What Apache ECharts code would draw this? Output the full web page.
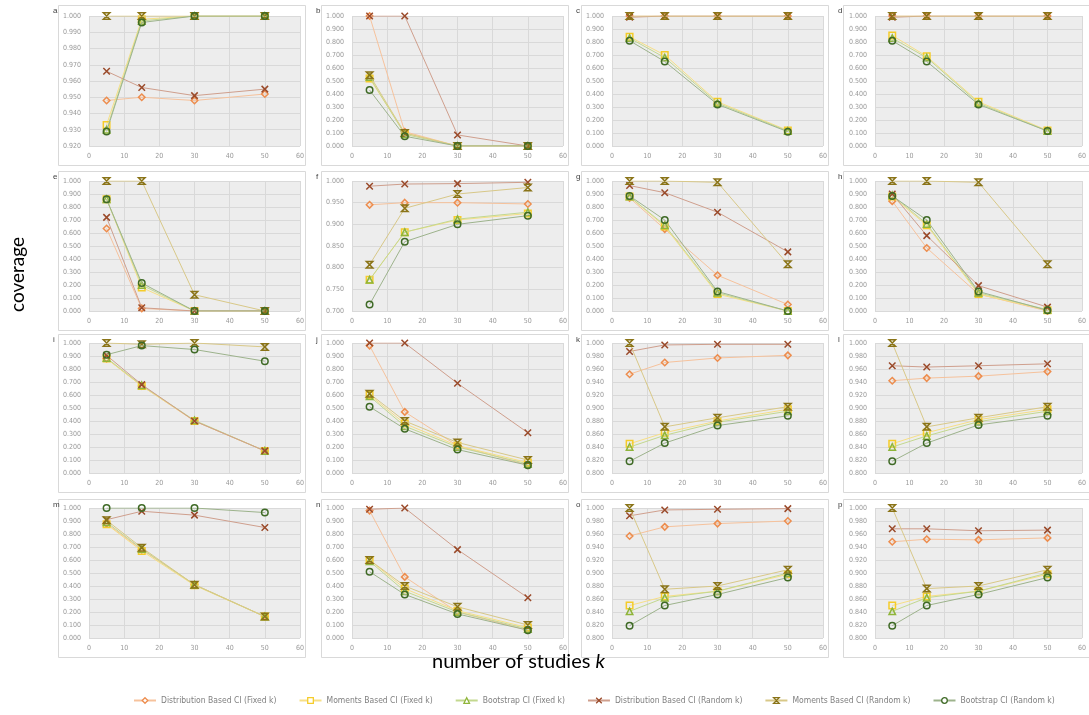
<!DOCTYPE html>
<html>
<head>
<meta charset="utf-8">
<script src="https://cdn.jsdelivr.net/npm/echarts@6/dist/echarts.min.js"></script>
<style>
html, body { margin: 0; padding: 0; background: #fff; }
#main { width: 1089px; height: 715px; }
</style>
</head>
<body>
<div id="main"></div>
<script>
var kValues = [5, 15, 30, 50];
var seriesNames = ['Distribution Based CI (Fixed k)', 'Moments Based CI (Fixed k)', 'Bootstrap CI (Fixed k)',
  'Distribution Based CI (Random k)', 'Moments Based CI (Random k)', 'Bootstrap CI (Random k)'];
var panelLetters = ['a', 'b', 'c', 'd', 'e', 'f', 'g', 'h', 'i', 'j', 'k', 'l', 'm', 'n', 'o', 'p'];
var yMin  = [0.92, 0, 0, 0,  0, 0.7, 0, 0,  0, 0, 0.8, 0.8,  0, 0, 0.8, 0.8];
var yMax  = [1, 1, 1, 1,  1, 1, 1, 1,  1, 1, 1, 1,  1, 1, 1, 1];
var yStep = [0.01, 0.1, 0.1, 0.1,  0.1, 0.05, 0.1, 0.1,  0.1, 0.1, 0.02, 0.02,  0.1, 0.1, 0.02, 0.02];

// one row per panel (a..p), values at k = 5, 15, 30, 50
var distFixed = [
  [0.948, 0.950, 0.948, 0.952], [1.000, 0.110, 0.000, 0.000], [1.000, 1.000, 1.000, 1.000], [1.000, 1.000, 1.000, 1.000],
  [0.635, 0.020, 0.000, 0.000], [0.945, 0.950, 0.950, 0.947], [0.870, 0.630, 0.275, 0.050], [0.845, 0.485, 0.130, 0.000],
  [0.880, 0.670, 0.400, 0.170], [0.980, 0.470, 0.210, 0.060], [0.952, 0.970, 0.977, 0.981], [0.942, 0.946, 0.949, 0.956],
  [0.880, 0.680, 0.410, 0.165], [0.980, 0.470, 0.200, 0.060], [0.957, 0.971, 0.976, 0.980], [0.948, 0.952, 0.951, 0.954]
];
var momFixed = [
  [0.933, 0.998, 1.000, 1.000], [0.520, 0.100, 0.000, 0.000], [0.840, 0.700, 0.340, 0.120], [0.850, 0.690, 0.340, 0.120],
  [0.860, 0.180, 0.000, 0.000], [0.772, 0.882, 0.910, 0.925], [0.880, 0.650, 0.130, 0.000], [0.880, 0.660, 0.130, 0.005],
  [0.880, 0.670, 0.400, 0.170], [0.600, 0.380, 0.210, 0.080], [0.845, 0.862, 0.880, 0.898], [0.845, 0.862, 0.882, 0.898],
  [0.875, 0.670, 0.405, 0.165], [0.600, 0.380, 0.210, 0.080], [0.850, 0.864, 0.872, 0.898], [0.850, 0.864, 0.872, 0.898]
];
var bootFixed = [
  [0.930, 0.997, 1.000, 1.000], [0.530, 0.090, 0.000, 0.000], [0.830, 0.680, 0.330, 0.115], [0.830, 0.680, 0.330, 0.115],
  [0.860, 0.200, 0.000, 0.000], [0.772, 0.882, 0.912, 0.928], [0.880, 0.660, 0.140, 0.000], [0.890, 0.670, 0.140, 0.010],
  [0.885, 0.675, 0.405, 0.170], [0.590, 0.360, 0.200, 0.070], [0.840, 0.858, 0.878, 0.895], [0.840, 0.857, 0.879, 0.895],
  [0.890, 0.685, 0.410, 0.165], [0.590, 0.360, 0.200, 0.070], [0.841, 0.862, 0.872, 0.900], [0.841, 0.862, 0.872, 0.900]
];
var distRandom = [
  [0.966, 0.956, 0.951, 0.955], [1.000, 1.000, 0.085, 0.000], [0.990, 1.000, 1.000, 1.000], [0.990, 1.000, 1.000, 1.000],
  [0.720, 0.025, 0.000, 0.000], [0.988, 0.993, 0.994, 0.997], [0.965, 0.910, 0.760, 0.455], [0.900, 0.580, 0.195, 0.030],
  [0.905, 0.680, 0.400, 0.170], [1.000, 1.000, 0.690, 0.310], [0.987, 0.997, 0.998, 0.998], [0.965, 0.963, 0.965, 0.968],
  [0.910, 0.975, 0.945, 0.850], [0.990, 1.000, 0.680, 0.310], [0.988, 0.997, 0.998, 0.999], [0.968, 0.968, 0.965, 0.966]
];
var momRandom = [
  [1.000, 1.000, 1.000, 1.000], [0.545, 0.100, 0.000, 0.000], [1.000, 1.000, 1.000, 1.000], [1.000, 1.000, 1.000, 1.000],
  [1.000, 1.000, 0.125, 0.000], [0.807, 0.937, 0.970, 0.985], [1.000, 1.000, 0.990, 0.360], [1.000, 1.000, 0.990, 0.360],
  [1.000, 0.990, 1.000, 0.970], [0.610, 0.400, 0.235, 0.100], [1.000, 0.871, 0.885, 0.902], [1.000, 0.871, 0.885, 0.902],
  [0.905, 0.695, 0.410, 0.165], [0.600, 0.400, 0.240, 0.100], [1.000, 0.875, 0.880, 0.905], [1.000, 0.876, 0.880, 0.905]
];
var bootRandom = [
  [0.929, 0.996, 1.000, 1.000], [0.430, 0.075, 0.000, 0.000], [0.810, 0.650, 0.320, 0.110], [0.810, 0.650, 0.320, 0.115],
  [0.860, 0.215, 0.000, 0.000], [0.715, 0.860, 0.900, 0.920], [0.885, 0.700, 0.150, 0.000], [0.885, 0.700, 0.150, 0.005],
  [0.910, 0.980, 0.950, 0.860], [0.510, 0.340, 0.180, 0.060], [0.818, 0.846, 0.873, 0.888], [0.818, 0.846, 0.874, 0.888],
  [1.000, 1.000, 1.000, 0.965], [0.510, 0.335, 0.185, 0.060], [0.819, 0.850, 0.867, 0.893], [0.819, 0.850, 0.867, 0.893]
];
var allData = [distFixed, momFixed, bootFixed, distRandom, momRandom, bootRandom];

var symbols = ['diamond', 'rect', 'triangle', 'path://M0,0L10,10M10,0L0,10', 'path://M0,0L10,0L0,10L10,10Z', 'circle'];
var markColors = ['#ed8d4e', '#f5cc2a', '#8fb53a', '#9a4a2a', '#8a7418', '#3f6a26'];
var lineColors = ['#f6c29c', '#f7df86', '#c3d88f', '#cf9f8d', '#d8c888', '#9db38c'];

// layout
var colLeft = [89, 352, 612, 875], plotW = 211;
var rowTop = [16, 181, 343, 508], plotH = 130;
var boxLeft = [58, 321, 581, 843], boxW = 247;
var boxTop = [5, 171, 334, 499], boxBottom = [165, 330, 492, 657];

var labelFont = "'Liberation Sans Narrow', 'DejaVu Sans Condensed', sans-serif";
var grids = [], xAxes = [], yAxes = [], series = [], graphics = [];

for (var p = 0; p < 16; p++) {
  var r = Math.floor(p / 4), c = p % 4;
  graphics.push({
    type: 'rect', silent: true, z: -10,
    shape: { x: boxLeft[c] + 0.5, y: boxTop[r] + 0.5, width: boxW, height: boxBottom[r] - boxTop[r] },
    style: { fill: '#ffffff', stroke: '#d9d9d9', lineWidth: 1 }
  });
  graphics.push({
    type: 'text', silent: true,
    x: boxLeft[c] - 5, y: boxTop[r] + 2,
    style: { text: panelLetters[p], fill: '#404040', font: "8px 'Liberation Sans', sans-serif" }
  });
  grids.push({
    left: colLeft[c], top: rowTop[r], width: plotW, height: plotH,
    show: true, backgroundColor: '#ededed', borderWidth: 0
  });
  xAxes.push({
    type: 'value', gridIndex: p, min: 0, max: 60, interval: 10,
    axisLine: { show: false }, axisTick: { show: false },
    axisLabel: { color: '#999999', fontSize: 7, fontFamily: labelFont, margin: 7 },
    splitLine: { show: true, lineStyle: { color: '#d9d9d9', width: 1 } }
  });
  yAxes.push({
    type: 'value', gridIndex: p, min: yMin[p], max: yMax[p], interval: yStep[p],
    axisLine: { show: false }, axisTick: { show: false },
    axisLabel: { color: '#999999', fontSize: 7, fontFamily: labelFont, margin: 8,
      formatter: function (v) { return v.toFixed(3); } },
    splitLine: { show: true, lineStyle: { color: '#d9d9d9', width: 1 } }
  });
  for (var s = 0; s < 6; s++) {
    series.push({
      name: seriesNames[s], type: 'line', xAxisIndex: p, yAxisIndex: p,
      data: kValues.map(function (k, i) { return [k, allData[s][p][i]]; }),
      symbol: symbols[s], symbolSize: 6.5, showAllSymbol: true,
      lineStyle: { color: lineColors[s], width: 1 },
      itemStyle: { color: 'rgba(255,255,255,0)', borderColor: markColors[s], borderWidth: 1.5 },
      emphasis: { disabled: true }, animation: false, z: 2 + s
    });
  }
}

graphics.push({
  type: 'text', silent: true, x: 8, y: 312, rotation: Math.PI / 2,
  style: { text: 'coverage', fill: '#000', font: "19px Lato, 'Open Sans', sans-serif" }
});
graphics.push({
  type: 'text', silent: true, x: 432, y: 652,
  style: {
    text: 'number of studies {i|k}', fill: '#000', font: "20px Lato, 'Open Sans', sans-serif",
    rich: { i: { fontStyle: 'italic', fontSize: 20, fontFamily: "Lato, 'Open Sans', sans-serif" } }
  }
});

var chart = echarts.init(document.getElementById('main'));
chart.setOption({
  animation: false,
  grid: grids,
  xAxis: xAxes,
  yAxis: yAxes,
  legend: {
    data: seriesNames, left: 128, top: 691, itemGap: 22, itemWidth: 22, itemHeight: 7,
    itemStyle: { color: '#ffffff', borderWidth: 1.3 },
    textStyle: { color: '#7f7f7f', fontSize: 8.5, fontFamily: labelFont }
  },
  graphic: graphics,
  series: series
});
</script>
</body>
</html>
